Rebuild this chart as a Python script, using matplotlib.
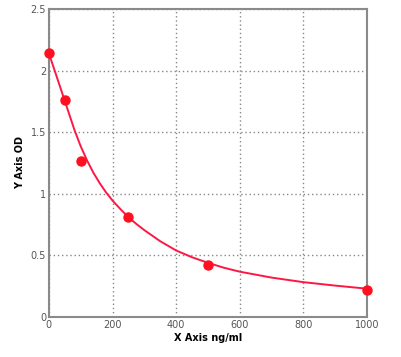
import numpy as np
import matplotlib.pyplot as plt

# standard points (concentration ng/ml, OD)
conc = [0, 50, 100, 250, 500, 1000]
od = [2.14, 1.76, 1.27, 0.81, 0.42, 0.22]

# fitted curve
curve_x = [0, 20, 40, 60, 80, 100, 120, 140, 160, 180, 200, 225, 250, 275, 300,
           350, 400, 450, 500, 550, 600, 700, 800, 900, 1000]
curve_y = [2.14, 1.985, 1.83, 1.675, 1.52, 1.385, 1.27, 1.17, 1.085, 1.01, 0.945,
           0.875, 0.81, 0.755, 0.705, 0.615, 0.54, 0.485, 0.44, 0.40, 0.368,
           0.32, 0.283, 0.255, 0.23]

xticks = [0, 200, 400, 600, 800, 1000]
yticks = [0, 0.5, 1, 1.5, 2, 2.5]
ytick_labels = ['0', '0.5', '1', '1.5', '2', '2.5']

fig = plt.figure(figsize=(4.01, 3.57), dpi=100)
ax = fig.add_axes([0.122, 0.112, 0.793, 0.863])

ax.plot(curve_x, curve_y, color='#ff1744', lw=1.4, zorder=3)
ax.plot(conc, od, 'o', color='#ff1020', ms=6.5, zorder=4, clip_on=False)

ax.set_xlim(0, 1000)
ax.set_ylim(0, 2.5)
ax.set_xticks(xticks)
ax.set_yticks(yticks)
ax.set_yticklabels(ytick_labels)
ax.grid(True, color='#888888', ls=(0, (1, 2)), lw=1.0)
ax.tick_params(length=0, labelsize=7, labelcolor='#555555', pad=2)

for s in ax.spines.values():
    s.set_color('#8a8a8a')
    s.set_linewidth(1.5)

ax.set_xlabel('X Axis ng/ml', fontsize=7, fontweight='bold', labelpad=2)
ax.set_ylabel('Y Axis OD', fontsize=7, fontweight='bold', labelpad=4)

fig.savefig('out.png', dpi=100)
